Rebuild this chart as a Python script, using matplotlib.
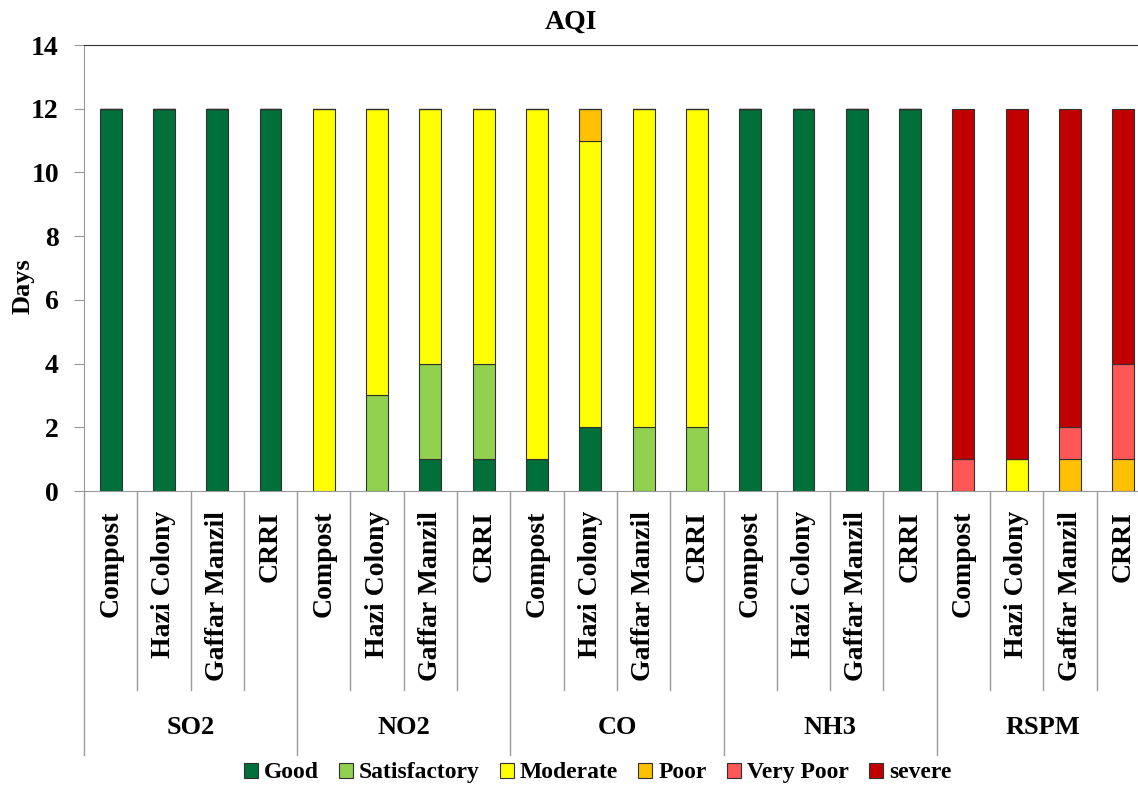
import numpy as np
import matplotlib.pyplot as plt
from matplotlib.patches import Patch

# ---- data -------------------------------------------------------------
pollutants = ["SO2", "NO2", "CO", "NH3", "RSPM"]
sites = ["Compost", "Hazi Colony", "Gaffar Manzil", "CRRI"]

good         = [12, 12, 12, 12,  0, 0, 1, 1,  1, 2, 0, 0,  12, 12, 12, 12,  0, 0, 0, 0]
satisfactory = [0, 0, 0, 0,      0, 3, 3, 3,  0, 0, 2, 2,  0, 0, 0, 0,      0, 0, 0, 0]
moderate     = [0, 0, 0, 0,      12, 9, 8, 8, 11, 9, 10, 10, 0, 0, 0, 0,    0, 1, 0, 0]
poor         = [0, 0, 0, 0,      0, 0, 0, 0,  0, 1, 0, 0,  0, 0, 0, 0,      0, 0, 1, 1]
very_poor    = [0, 0, 0, 0,      0, 0, 0, 0,  0, 0, 0, 0,  0, 0, 0, 0,      1, 0, 1, 3]
severe       = [0, 0, 0, 0,      0, 0, 0, 0,  0, 0, 0, 0,  0, 0, 0, 0,      11, 11, 10, 8]

series = [("Good", good, "#00703a"),
          ("Satisfactory", satisfactory, "#92d050"),
          ("Moderate", moderate, "#ffff00"),
          ("Poor", poor, "#ffc000"),
          ("Very Poor", very_poor, "#ff5757"),
          ("severe", severe, "#c00000")]

plt.rcParams['font.family'] = ['Liberation Serif', 'DejaVu Serif']
plt.rcParams['font.weight'] = 'bold'

fig = plt.figure(figsize=(11.38, 7.87), dpi=100)
ax = fig.add_axes([0.0738, 0.3761, 0.9367, 0.5667])

n = len(pollutants) * len(sites)
x = np.arange(n)
bottom = np.zeros(n)
for name, vals, col in series:
    vals = np.array(vals, dtype=float)
    ax.bar(x, vals, 0.41, bottom=bottom, color=col, edgecolor="#303030",
           linewidth=0.8, zorder=3)
    bottom += vals

ax.set_xlim(-0.5, n - 0.5)
ax.set_ylim(0, 14)
ax.set_yticks(range(0, 15, 2))
ax.tick_params(axis='y', labelsize=20, length=7, color="#999999", pad=11)
ax.set_xticks([])
for lab in ax.get_yticklabels():
    lab.set_fontweight('bold')
ax.text(-0.057, 0.46, "Days", transform=ax.transAxes, rotation=90,
        ha='center', va='center', fontsize=19, fontweight='bold')

ax.spines['left'].set_color("#999999")
ax.spines['bottom'].set_color("#999999")
ax.spines['top'].set_color("#303030")
ax.spines['right'].set_visible(False)

fig.text(0.502, 0.972, "AQI", ha='center', va='center', fontsize=20,
         fontweight='bold')

# two-level category axis
tr = ax.get_xaxis_transform()
sep_low = -0.446
grp_low = -0.592
for i in range(n):
    ax.text(i, -0.045, sites[i % len(sites)], transform=tr, rotation=90,
            ha='center', va='top', fontsize=20, fontweight='bold')
    if i % len(sites) != len(sites) - 1:
        ax.plot([i + 0.5, i + 0.5], [0, sep_low], transform=tr,
                color="#999999", lw=1, clip_on=False)
for g, name in enumerate(pollutants):
    left = g * len(sites) - 0.5
    ax.plot([left, left], [0, grp_low], transform=tr, color="#999999",
            lw=1, clip_on=False)
    ax.text(left + len(sites) / 2, -0.531, name, transform=tr, ha='center',
            va='center', fontsize=19, fontweight='bold')

handles = [Patch(facecolor=c, edgecolor="#303030", linewidth=0.8, label=nm)
           for nm, _, c in series]
fig.legend(handles=handles, loc='center', bbox_to_anchor=(0.525, 0.018),
           ncol=6, frameon=False, fontsize=17, handlelength=0.6,
           handleheight=0.6, handletextpad=0.25, columnspacing=0.85)

fig.savefig("out.png", dpi=100)
